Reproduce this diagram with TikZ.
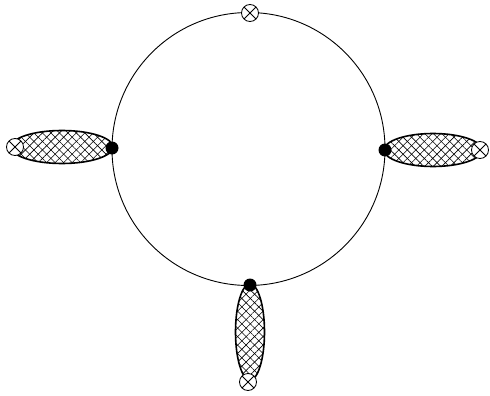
\documentclass[tikz,border=0pt]{standalone}
\usepackage{tikz}
\usetikzlibrary{shapes.geometric,patterns.meta}

\begin{document}
\begin{tikzpicture}[
    x=1pt, y=-1pt,
    ring/.style={circle, draw=black, line width=0.9pt, minimum size=273pt, inner sep=0pt},
    lobe/.style={ellipse, draw=black, line width=1.6pt, inner sep=0pt,
      pattern={Lines[angle=45, distance=6pt, line width=0.6pt]},
      postaction={pattern={Lines[angle=-45, distance=6pt, line width=0.6pt]}}},
    vtx/.style={circle, fill=black, minimum size=13pt, inner sep=0pt},
    xcirc/.style={circle, draw=black, line width=0.8pt, fill=white, minimum size=17pt, inner sep=0pt,
      path picture={\draw[line width=0.8pt] (path picture bounding box.center) +(45:9pt) -- +(225:9pt) +(135:9pt) -- +(315:9pt);}}
  ]
  \useasboundingbox (0,0) rectangle (490,396);

  % --- LOOP ---
  \node[ring] (loop) at (248.5,149) {};

  % --- LOBES ---
  \node[lobe, minimum width=102pt, minimum height=33pt] (lobe_left) at (62,147) {};
  \node[lobe, minimum width=98pt, minimum height=33pt] (lobe_right) at (433,150) {};
  \node[lobe, minimum width=29pt, minimum height=96pt] (lobe_bottom) at (250,332) {};

  % --- VERTICES ---
  \node[vtx] (v_left) at (112,148) {};
  \node[vtx] (v_right) at (385,150) {};
  \node[vtx] (v_bottom) at (250,285) {};

  % --- CROSSED INSERTIONS ---
  \node[xcirc] (x_top) at (250,13) {};
  \node[xcirc] (x_left) at (15,147) {};
  \node[xcirc] (x_right) at (480,150) {};
  \node[xcirc] (x_bottom) at (248,382) {};

\end{tikzpicture}
\end{document}
